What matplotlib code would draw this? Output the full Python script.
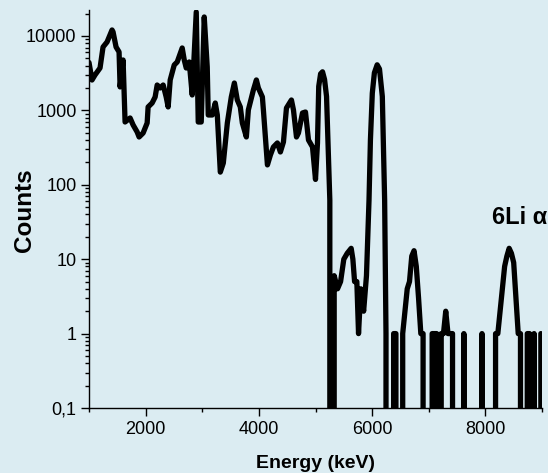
#!/usr/bin/env python3
"""Alpha spectrum, counts vs energy (log scale)."""

import matplotlib
matplotlib.use("Agg")
import matplotlib.pyplot as plt
import numpy as np
from matplotlib.ticker import FixedLocator, FuncFormatter, LogLocator, NullFormatter

plt.rcParams["font.family"] = ["Liberation Sans", "DejaVu Sans"]

BG = "#dbecf2"

# high-count part of the spectrum (keV, counts)
main_energy = [
    1000, 1053, 1106, 1195, 1248, 1319, 1407, 1425, 1478, 1531,
    1549, 1602, 1637, 1726, 1779, 1850, 1885, 1956, 2027, 2044,
    2115, 2168, 2204, 2257, 2310, 2363, 2398, 2434, 2505, 2558,
    2646, 2682, 2717, 2770, 2823, 2894, 2929, 2982, 3035, 3088,
    3106, 3177, 3230, 3266, 3319, 3372, 3443, 3513, 3567, 3619,
    3672, 3708, 3779, 3814, 3903, 3956, 3991, 4062, 4080, 4151,
    4204, 4257, 4327, 4380, 4434, 4487, 4575, 4611, 4664, 4699,
    4770, 4823, 4876, 4947, 5000, 5035, 5057, 5090, 5124, 5160,
    5195, 5253, 5300, 5330, 5389, 5443, 5500, 5560, 5630, 5660,
    5690, 5730, 5760, 5800, 5850, 5900, 5945, 5970, 6003, 6040,
    6089, 6130, 6180, 6221, 6245, 6270,
]
main_counts = [
    4400, 2560, 2990, 3715, 7110, 8300, 12050, 11330, 7110, 6100,
    2065, 4760, 698, 790, 637, 513, 439, 497, 677, 1112,
    1257, 1514, 2193, 2000, 2193, 1514, 1112, 2564, 4074, 4475,
    6900, 4760, 3715, 4475, 1610, 21000, 698, 698, 18000, 3830,
    867, 867, 1257, 867, 148, 196, 677, 1514, 2333, 1380,
    1112, 677, 439, 1012, 1880, 2564, 2000, 1514, 1012, 185,
    252, 322, 365, 276, 376, 1076, 1380, 1012, 439, 497,
    923, 951, 400, 322, 118, 365, 2100, 3100, 3300, 2600,
    1540, 62, 0, 6, 4, 5, 10, 12, 14, 10,
    5, 5, 1, 4, 2, 6, 62, 400, 1700, 3200,
    4100, 3600, 1540, 62, 1, 0,
]

# low-count tail, 40 keV channels starting at 6300 keV
tail_energy = np.arange(6300, 9000, 40)
tail_counts = [
    0, 0, 1, 1, 0, 0, 1, 2, 4, 5,
    11, 13, 8, 3, 1, 1, 0, 0, 0, 1,
    1, 1, 0, 1, 1, 2, 1, 1, 1, 0,
    0, 0, 0, 1, 0, 0, 0, 0, 0, 0,
    0, 1, 0, 0, 0, 0, 0, 1, 1, 2,
    4, 8, 11, 14, 12, 9, 3, 1, 1, 0,
    0, 1, 1, 0, 1, 0, 0, 1,
]

y_ticks = [0.1, 1, 10, 100, 1000, 10000]


def fmt_y(v, _pos):
    if v < 1:
        return f"{v:g}".replace(".", ",")
    return f"{int(round(v))}"


def main():
    energy = np.concatenate([main_energy, tail_energy])
    counts = np.concatenate([main_counts, tail_counts]).astype(float)

    fig = plt.figure(figsize=(5.48, 4.73), dpi=100, facecolor=BG)
    ax = fig.add_axes([89 / 548, 65 / 473, 453 / 548, 397.5 / 473])
    ax.set_facecolor(BG)

    ax.plot(energy, counts, color="black", linewidth=3.8,
            solid_joinstyle="round", solid_capstyle="round")
    ax.set_yscale("log", nonpositive="clip")
    ax.set_xlim(1000, 9000)
    ax.set_ylim(0.1, 2.2e4)

    ax.xaxis.set_major_locator(FixedLocator([2000, 4000, 6000, 8000]))
    ax.xaxis.set_minor_locator(FixedLocator([1000, 3000, 5000, 7000, 9000]))
    ax.yaxis.set_major_locator(FixedLocator(y_ticks))
    ax.yaxis.set_major_formatter(FuncFormatter(fmt_y))
    ax.yaxis.set_minor_locator(LogLocator(base=10, subs=np.arange(2, 10)))
    ax.yaxis.set_minor_formatter(NullFormatter())

    for s in ("top", "right"):
        ax.spines[s].set_visible(False)
    for s in ("left", "bottom"):
        ax.spines[s].set_linewidth(1.0)

    ax.tick_params(which="major", direction="out", length=6, width=1.0,
                   labelsize=13, pad=3)
    ax.tick_params(which="minor", direction="out", length=3, width=1.0)

    ax.text(8120, 36, "6Li \u03b1", fontsize=17, fontweight="bold",
            ha="left", va="center")

    fig.text(316 / 548, 1 - 463 / 473, "Energy (keV)", fontsize=14,
             fontweight="bold", ha="center", va="center")
    fig.text(24 / 548, 1 - 210 / 473, "Counts", fontsize=17.5,
             fontweight="bold", ha="center", va="center", rotation=90)

    fig.savefig("out.png", dpi=100, facecolor=BG)


if __name__ == "__main__":
    main()
